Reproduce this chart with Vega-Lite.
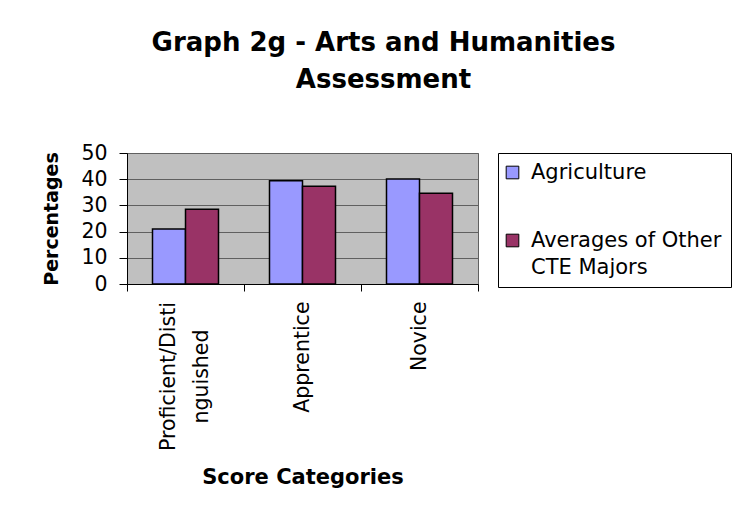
{
  "$schema": "https://vega.github.io/schema/vega-lite/v6.json",
  "autosize": {"type": "none"},
  "width": 351,
  "height": 131,
  "padding": {"left": 127, "top": 153, "right": 256, "bottom": 232},
  "background": "white",
  "title": {
    "text": ["Graph 2g - Arts and Humanities", "Assessment"],
    "font": "DejaVu Sans",
    "fontWeight": "bold",
    "fontSize": 26,
    "lineHeight": 37,
    "color": "black",
    "anchor": "middle",
    "frame": "group",
    "dx": 81,
    "offset": 50
  },
  "data": {
    "values": [
      {"category": "Proficient/Distinguished", "series": "Agriculture", "value": 21},
      {"category": "Proficient/Distinguished", "series": "Averages of Other CTE Majors", "value": 28.5},
      {"category": "Apprentice", "series": "Agriculture", "value": 39.4},
      {"category": "Apprentice", "series": "Averages of Other CTE Majors", "value": 37.3},
      {"category": "Novice", "series": "Agriculture", "value": 40.1},
      {"category": "Novice", "series": "Averages of Other CTE Majors", "value": 34.6}
    ]
  },
  "mark": {"type": "bar", "stroke": "black", "strokeWidth": 1.5},
  "encoding": {
    "x": {
      "field": "category",
      "type": "nominal",
      "sort": ["Proficient/Distinguished", "Apprentice", "Novice"],
      "scale": {"paddingInner": 0, "paddingOuter": 0},
      "axis": {
        "title": "Score Categories",
        "titleFont": "DejaVu Sans",
        "titleFontWeight": "bold",
        "titleFontSize": 21,
        "titleColor": "black",
        "titlePadding": 16,
        "labelAngle": -90,
        "labelFont": "DejaVu Sans",
        "labelFontSize": 20.5,
        "labelColor": "black",
        "labelLineHeight": 33,
        "labelExpr": "datum.label == 'Proficient/Distinguished' ? ['Proficient/Disti', 'nguished'] : datum.label",
        "labelOffset": {"condition": {"test": "datum.value == 'Proficient/Distinguished'", "value": -17}, "value": 0},
        "labelAlign": {"condition": {"test": "datum.value == 'Proficient/Distinguished'", "value": "center"}, "value": "right"},
        "labelPadding": {"condition": {"test": "datum.value == 'Proficient/Distinguished'", "value": 85}, "value": 10},
        "tickBand": "extent",
        "tickSize": 7,
        "tickColor": "black",
        "domainColor": "black",
        "labelLimit": 400
      }
    },
    "xOffset": {
      "field": "series",
      "type": "nominal",
      "scale": {"paddingInner": 0, "paddingOuter": 0.7727}
    },
    "y": {
      "field": "value",
      "type": "quantitative",
      "scale": {"domain": [0, 50], "nice": false},
      "axis": {
        "title": "Percentages",
        "titleFont": "DejaVu Sans",
        "titleFontWeight": "bold",
        "titleFontSize": 19,
        "titleColor": "black",
        "titlePadding": 19,
        "values": [0, 10, 20, 30, 40, 50],
        "labelFont": "DejaVu Sans",
        "labelFontSize": 20.5,
        "labelColor": "black",
        "labelPadding": 12,
        "tickSize": 8,
        "tickColor": "black",
        "domainColor": "black",
        "gridColor": "#606060",
        "gridWidth": 1,
        "gridOpacity": 1
      }
    },
    "color": {
      "field": "series",
      "type": "nominal",
      "scale": {
        "domain": ["Agriculture", "Averages of Other CTE Majors"],
        "range": ["#9999FF", "#993366"]
      },
      "legend": {
        "title": null,
        "orient": "none",
        "legendX": 371,
        "legendY": 0,
        "padding": 9,
        "symbolOffset": -5,
        "strokeColor": "black",
        "fillColor": "white",
        "symbolType": "square",
        "symbolSize": 160,
        "symbolStrokeColor": "black",
        "symbolStrokeWidth": 1,
        "labelFont": "DejaVu Sans",
        "labelFontSize": 21,
        "labelColor": "black",
        "labelOffset": 8,
        "labelLimit": 400,
        "rowPadding": 46,
        "labelExpr": "datum.label == 'Averages of Other CTE Majors' ? ['Averages of Other', 'CTE Majors'] : datum.label",
        "encode": {
          "labels": {"update": {"lineHeight": {"value": 27}}}
        }
      }
    }
  },
  "config": {
    "view": {"fill": "#C0C0C0", "stroke": "#606060", "strokeWidth": 1},
    "axis": {"gridColor": "#606060"}
  }
}
